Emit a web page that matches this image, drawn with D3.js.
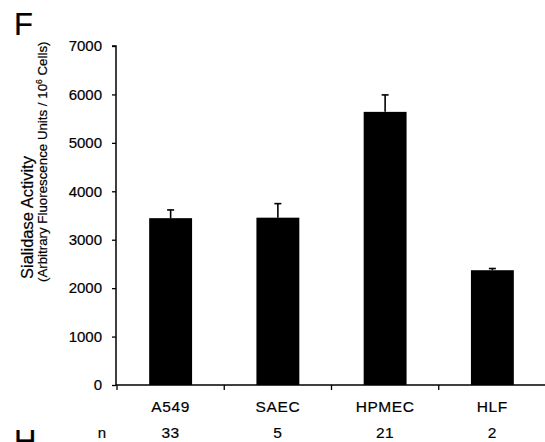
<!DOCTYPE html>
<html>
<head>
<meta charset="utf-8">
<script src="https://cdn.jsdelivr.net/npm/d3@7"></script>
<style>
  html, body { margin: 0; padding: 0; background: #fff; }
  svg { display: block; }
  text { font-family: "Liberation Sans", Arial, sans-serif; fill: #000; stroke: #000; stroke-width: 0.2px; }
</style>
</head>
<body>
<svg id="chart" width="545" height="442"></svg>
<script>
// ---- data ----
const categories = ["A549", "SAEC", "HPMEC", "HLF"];
const values = [3445, 3455, 5640, 2370];
const errors = [170, 290, 350, 35];
const nValues = ["33", "5", "21", "2"];
const yTicks = [0, 1000, 2000, 3000, 4000, 5000, 6000, 7000];
const yTitle1 = "Sialidase Activity";
const yTitle2a = "(Arbitrary Fluorescence Units / 10";
const yTitle2sup = "6";
const yTitle2b = " Cells)";

const svg = d3.select("#chart");

const x = d3.scaleBand().domain(categories).range([117, 546]).paddingInner(0.6).paddingOuter(0.3);
const y = d3.scaleLinear().domain([0, 7000]).range([385, 46]);

// panel letters
svg.append("text").attr("x", 14).attr("y", 35).attr("font-size", 31).attr("stroke-width", 0).text("F");
svg.append("text").attr("x", 14).attr("y", 452).attr("font-size", 31).attr("stroke-width", 0).text("H");

// bars
svg.selectAll("rect.bar").data(categories).join("rect")
  .attr("class", "bar")
  .attr("x", d => x(d))
  .attr("width", x.bandwidth())
  .attr("y", (d, i) => y(values[i]))
  .attr("height", (d, i) => y(0) - y(values[i]))
  .attr("fill", "#000");

// error bars (upper only)
const eb = svg.append("g").attr("stroke", "#000").attr("stroke-width", 1.6);
categories.forEach((c, i) => {
  const cx = x(c) + x.bandwidth() / 2;
  eb.append("line").attr("x1", cx).attr("x2", cx).attr("y1", y(values[i])).attr("y2", y(values[i] + errors[i]));
  eb.append("line").attr("x1", cx - 3.5).attr("x2", cx + 3.5).attr("y1", y(values[i] + errors[i])).attr("y2", y(values[i] + errors[i]));
});

// y axis
const yAxis = d3.axisLeft(y).tickValues(yTicks).tickSize(4).tickPadding(10).tickFormat(d3.format("d"));
const gy = svg.append("g").attr("transform", "translate(116,0)").call(yAxis);
gy.select(".domain").attr("stroke", "#000").attr("stroke-width", 1.5).attr("d", `M-4,${y(7000)}H0V${y(0)}`);
gy.selectAll(".tick line").attr("stroke", "#000").attr("stroke-width", 1.3);
gy.selectAll(".tick text").attr("font-size", 15).attr("font-family", "Liberation Sans, Arial, sans-serif")
  .attr("fill", "#000").attr("stroke", "#000").attr("stroke-width", 0.2);

// x axis line with ticks at band boundaries
const step = x.step();
const bounds = categories.map(c => x(c) - step * x.paddingInner() / 2).concat([x(categories[categories.length - 1]) + x.bandwidth() + step * x.paddingInner() / 2]);
const gx = svg.append("g");
gx.append("line").attr("x1", 116).attr("x2", 546).attr("y1", y(0)).attr("y2", y(0)).attr("stroke", "#000").attr("stroke-width", 1.5);
gx.selectAll("line.tk").data(bounds).join("line").attr("class", "tk")
  .attr("x1", d => d).attr("x2", d => d).attr("y1", y(0)).attr("y2", y(0) + 5)
  .attr("stroke", "#000").attr("stroke-width", 1.3);

// category labels
svg.selectAll("text.cat").data(categories).join("text").attr("class", "cat")
  .attr("x", d => x(d) + x.bandwidth() / 2).attr("y", 412)
  .attr("text-anchor", "middle").attr("font-size", 15.5).attr("letter-spacing", 0.6)
  .text(d => d);

// n row
svg.append("text").attr("x", 102).attr("y", 438).attr("text-anchor", "middle").attr("font-size", 15).text("n");
svg.selectAll("text.nv").data(categories).join("text").attr("class", "nv")
  .attr("x", d => x(d) + x.bandwidth() / 2).attr("y", 438)
  .attr("text-anchor", "middle").attr("font-size", 15.5).attr("letter-spacing", 0.6)
  .text((d, i) => nValues[i]);

// y title
svg.append("text").attr("transform", "translate(33,279) rotate(-90)")
  .attr("font-size", 16.5).text(yTitle1);
const t2 = svg.append("text").attr("transform", "translate(47,282) rotate(-90)").attr("font-size", 13.3);
t2.append("tspan").text(yTitle2a);
t2.append("tspan").attr("font-size", 8.5).attr("dy", -5).text(yTitle2sup);
t2.append("tspan").attr("dy", 5).text(yTitle2b);
</script>
</body>
</html>
